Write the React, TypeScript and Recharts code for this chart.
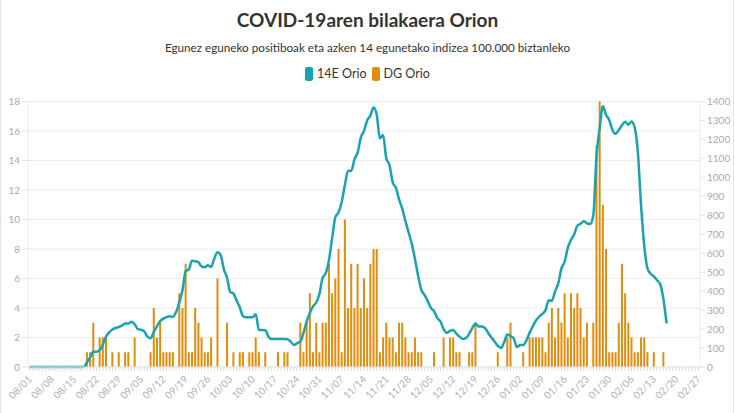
import React from 'react';
import { ComposedChart, Bar, Line, XAxis, YAxis, CartesianGrid } from 'recharts';

// Months covered by the x axis (label prefix, number of days shown)
const monthNames: string[] = ['08', '09', '10', '11', '12', '01', '02'];
const monthDays: number[] = [31, 30, 31, 30, 31, 31, 27];

const dates: string[] = [];
monthNames.forEach((m, i) => {
  for (let d = 1; d <= monthDays[i]; d++) {
    dates.push(`${m}/${d < 10 ? '0' + d : d}`);
  }
});

// DG Orio: daily positives (left axis)
const dgOrio: (number | null)[] = [
  0, 0, 0, 0, 0, 0, 0, 0, 0, 0, 0, 0, 0, 0, 0, 0, 0, 0,
  1, 1, 3, 0, 2, 2, 2, 0, 1, 0, 1, 0, 1, 1, 0, 2, 0, 0, 0, 0,
  1, 4, 2, 3, 1, 1, 1, 1, 0, 5, 4, 7, 1, 1, 4, 3, 2, 1, 1, 2, 0, 6, 0, 0, 3, 0, 1, 0, 1, 1, 0, 1, 1, 2, 1, 0, 1, 0, 0, 0, 1, 0, 1, 1, 0, 0, 0,
  3, 1, 3, 5, 1, 3, 1, 3, 3, 7, 5, 6, 8, 1, 10, 4, 7, 4, 7, 4, 6, 4, 7, 8, 8,
  1, 2, 3, 2, 2, 1, 3, 3, 2, 1, 1, 2, 1, 1, 0, 0, 0, 1, 0, 0, 2, 0, 2, 2, 1, 1, 0, 0, 1, 1, 3,
  0, 0, 0, 0, 0, 0, 1, 0, 0, 2, 3, 0, 0, 0, 1, 0,
  2, 2, 2, 2, 2, 1, 3, 4, 2, 4, 3, 5, 2, 5, 4, 5, 4, 2, 3, 0, 3,
  15, 18, 11, 8, 1, 1, 1, 3, 7, 5, 3, 2, 1, 1, 2, 2, 1, 0, 1, 0, 0, 1, 0,
  null, null, null, null, null, null, null, null, null, null,
];

// 14E Orio: 14-day incidence per 100.000 (right axis)
const e14Orio: (number | null)[] = [
  0, 0, 0, 0, 0, 0, 0, 0, 0, 0, 0, 0, 0, 0, 0, 0, 0, 0,
  25, 50, 81, 81, 88, 118, 160, 183, 198, 206, 211, 218, 230, 230, 238, 225, 200, 196, 188, 160,
  152, 185, 215, 242, 255, 263, 267, 264, 290, 340, 405, 505, 515, 560, 558, 553, 530, 526, 536, 528, 572, 605,
  590, 515, 470, 395, 388, 350, 315, 268, 262, 262, 262, 278, 195, 195, 194, 160, 148, 148, 148, 148, 148, 146,
  134, 116, 126, 134, 180, 240, 285, 320, 340, 385, 470, 495, 565, 680, 790, 815, 870, 960, 1035, 1034,
  1095, 1130, 1210, 1245, 1300, 1326, 1368, 1330, 1205, 1224, 1100, 1065, 975, 945, 885, 835, 770, 710, 650, 570,
  480, 406, 380, 348, 312, 295, 258, 240, 200, 180, 190, 195, 176, 160, 148, 152, 175, 205, 230, 214,
  213, 205, 180, 155, 135, 112, 100, 130, 172, 163, 152, 105, 116, 116, 140, 180, 215, 245, 265, 280,
  300, 352, 350, 400, 441, 520, 555, 630, 670, 700, 745, 755, 768, 758, 754, 800, 1110, 1260, 1375, 1330,
  1303, 1250, 1230, 1250, 1275, 1293, 1278, 1294, 1262, 1130, 850, 640, 520, 492, 478, 458, 436, 360, 230,
  null, null, null, null, null, null, null, null, null, null,
];

const leftTicks: number[] = [0, 2, 4, 6, 8, 10, 12, 14, 16, 18];
const rightTicks: number[] = [0, 100, 200, 300, 400, 500, 600, 700, 800, 900, 1000, 1100, 1200, 1300, 1400];

const chartData = dates.map((date, i) => ({
  date,
  dg: dgOrio[i] ?? null,
  e14: e14Orio[i] ?? null,
}));

const TEAL = '#18a4af';
const ORANGE = '#e38c0b';
const FONT = 'Lato, "Noto Sans", sans-serif';

const XTick = (props: any) => {
  const { x, y, payload } = props;
  const idx = props.index ?? payload?.index ?? 0;
  if (idx % 7 !== 0) return <g />;
  const ax = x + 3;
  const ay = y + 7;
  return (
    <text
      x={ax}
      y={ay}
      transform={`rotate(-45 ${ax} ${ay})`}
      textAnchor="end"
      fontSize={10}
      fill="#b0b0b0"
      fontFamily={FONT}
    >
      {payload.value}
    </text>
  );
};

export default function App() {
  return (
    <div
      style={{
        position: 'absolute',
        left: 0,
        top: 0,
        width: 735,
        height: 413,
        background: '#fff',
        overflow: 'hidden',
        fontFamily: FONT,
      }}
    >
      <div style={{ position: 'absolute', left: 0, top: 0, width: 1, height: 413, background: '#e2e2e2' }} />
      <div style={{ position: 'absolute', left: 733, top: 0, width: 1, height: 413, background: '#e2e2e2' }} />
      <div
        style={{
          position: 'absolute',
          left: 0,
          top: 7,
          width: 735,
          textAlign: 'center',
          fontSize: 19,
          fontWeight: 700,
          color: '#333',
          lineHeight: '26px',
        }}
      >
        COVID-19aren bilakaera Orion
      </div>
      <div
        style={{
          position: 'absolute',
          left: 0,
          top: 38,
          width: 735,
          textAlign: 'center',
          fontSize: 11.7,
          color: '#333',
          lineHeight: '18px',
        }}
      >
        Egunez eguneko positiboak eta azken 14 egunetako indizea 100.000 biztanleko
      </div>
      <div
        style={{
          position: 'absolute',
          left: 0,
          top: 66,
          width: 735,
          display: 'flex',
          justifyContent: 'center',
          alignItems: 'center',
          fontSize: 12.5,
          color: '#333',
          lineHeight: '16px',
        }}
      >
        <span style={{ display: 'inline-block', width: 8, height: 14, borderRadius: 2, background: TEAL, marginRight: 4 }} />
        <span style={{ marginRight: 5 }}>14E Orio</span>
        <span style={{ display: 'inline-block', width: 8, height: 14, borderRadius: 2, background: ORANGE, marginRight: 4 }} />
        <span>DG Orio</span>
      </div>
      <div style={{ position: 'absolute', left: 0, top: 0 }}>
        <ComposedChart
          width={735}
          height={413}
          data={chartData}
          margin={{ top: 101.5, right: 0, bottom: 0, left: 0 }}
          barCategoryGap="18%"
        >
          <CartesianGrid yAxisId="left" vertical={false} stroke="#ececec" />
          <XAxis
            dataKey="date"
            interval={0}
            height={46}
            tickSize={4}
            axisLine={{ stroke: '#e6e6e6' }}
            tickLine={{ stroke: '#dedede' }}
            tick={<XTick />}
          />
          <YAxis
            yAxisId="left"
            width={28}
            domain={[0, 18]}
            ticks={leftTicks}
            tickSize={6}
            axisLine={{ stroke: '#ececec' }}
            tickLine={{ stroke: '#e2e2e2' }}
            tick={{ fontSize: 10, fill: '#aaa', fontFamily: FONT }}
          />
          <YAxis
            yAxisId="right"
            orientation="right"
            width={35}
            domain={[0, 1400]}
            ticks={rightTicks}
            tickSize={5}
            axisLine={{ stroke: '#ececec' }}
            tickLine={{ stroke: '#e2e2e2' }}
            tick={{ fontSize: 10, fill: '#aaa', fontFamily: FONT, textAnchor: 'start' }}
          />
          <Bar yAxisId="left" dataKey="dg" fill={ORANGE} isAnimationActive={false} />
          <Line
            yAxisId="right"
            dataKey="e14"
            type="monotone"
            stroke={TEAL}
            strokeWidth={2.5}
            dot={false}
            activeDot={false}
            isAnimationActive={false}
          />
        </ComposedChart>
      </div>
    </div>
  );
}
